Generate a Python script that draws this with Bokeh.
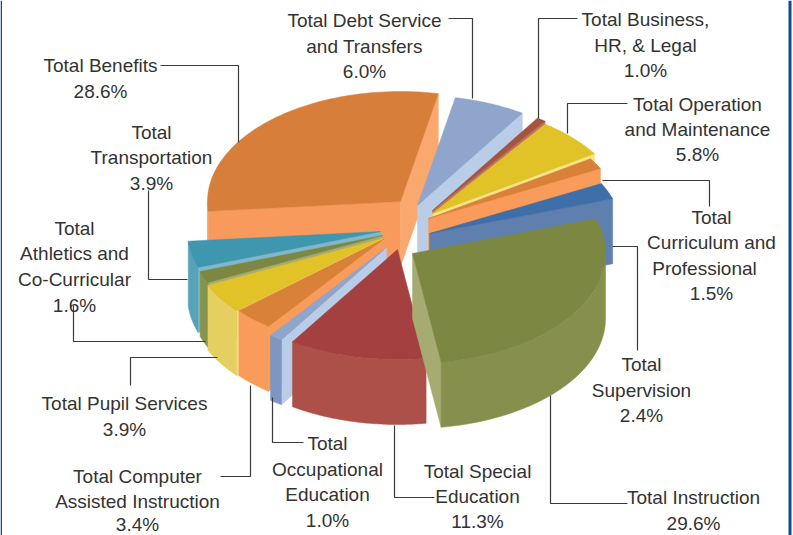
import numpy as np
from bokeh.plotting import figure
from bokeh.embed import file_html
from bokeh.resources import INLINE
from bokeh.core.properties import value

# ---- data (clockwise from the top of the pie) ----
categories = ["Total Debt Service and Transfers", "Total Business, HR, & Legal",
              "Total Operation and Maintenance", "Total Curriculum and Professional",
              "Total Supervision", "Total Instruction", "Total Special Education",
              "Total Occupational Education", "Total Computer Assisted Instruction",
              "Total Pupil Services", "Total Athletics and Co-Curricular",
              "Total Transportation", "Total Benefits"]
shares = [6.0, 1.0, 5.8, 1.5, 2.4, 29.6, 11.3, 1.0, 3.4, 3.9, 1.6, 3.9, 28.6]

top_colors = ["#8FA5CB", "#A5553C", "#E2C327", "#D98039", "#3F6FA8", "#7C8842", "#A54040",
              "#8FA5CB", "#D98039", "#E2C327", "#7C8842", "#3E96AF", "#D77F3A"]
outer_colors = ["#B9CCE8", "#BC7267", "#F5E58A", "#F99C5B", "#5F7FAF", "#868F4C", "#AC5049",
                "#7F96C2", "#F99C5B", "#E5CF60", "#86934F", "#55A2B9", "#F79A5B"]
wall_colors = ["#B9CCE8", "#BC7267", "#F5E58A", "#F99C5B", "#5F7FAF", "#A6AB72", "#AC5049",
               "#B9CCE8", "#F99C5B", "#F5E58A", "#A6AB72", "#7FB8CB", "#F79A5B"]
end_wall_benefits = "#FBA86E"

# ---- layout of the pie (pixels) ----
CX, CY = 404, 238
RX, RY = 193, 110
DEPTH = 65
START = 9.5
# the reference's perspective moves the slice boundaries a little (degrees, per boundary)
perspective_shift = [1.8, 1.8, 1.0, 1.5, 2.0, 2.0, -4.7, -3.9, -3.5, -3.7, -2.0, -1.6, -1.6, 1.8]
explode_dx = [13, 28, 28, 24, 25, 8, -7, -18, -20, -22, -22, -24, -4]
explode_dy = [-33, -28, -25, -20, -5, 15, 11, 9, 0, 0, -3, -7, -37]
# painter's order, back to front
draw_order = [12, 0, 1, 2, 3, 4, 11, 10, 9, 8, 7, 6, 5]

# ---- labels: (text, x, y) lines; leaders: polylines ----
label_lines = [
    ("Total Debt Service", 364, 20), ("and Transfers", 364, 46), ("6.0%", 364, 71),
    ("Total Business,", 645, 19), ("HR, & Legal", 645, 45), ("1.0%", 645, 70),
    ("Total Operation", 697, 104), ("and Maintenance", 697, 129), ("5.8%", 697, 154),
    ("Total", 711, 217), ("Curriculum and", 711, 242), ("Professional", 704, 268), ("1.5%", 711, 293),
    ("Total", 641, 364), ("Supervision", 641, 390), ("2.4%", 641, 415),
    ("Total Instruction", 693, 497), ("29.6%", 693, 523),
    ("Total Special", 477, 471), ("Education", 477, 496), ("11.3%", 477, 521),
    ("Total", 327, 443), ("Occupational", 327, 469), ("Education", 327, 494), ("1.0%", 327, 520),
    ("Total Computer", 137, 476), ("Assisted Instruction", 137, 501), ("3.4%", 137, 524),
    ("Total Pupil Services", 124, 403), ("3.9%", 124, 429),
    ("Total", 74, 228), ("Athletics and", 74, 253), ("Co-Curricular", 74, 279), ("1.6%", 74, 305),
    ("Total", 151, 132), ("Transportation", 151, 157), ("3.9%", 151, 183),
    ("Total Benefits", 100, 65), ("28.6%", 100, 91),
]
leaders = [
    ([160, 238, 238], [65, 65, 142]),
    ([448, 472, 472], [18, 18, 98]),
    ([577, 538, 538], [18, 18, 118]),
    ([627, 567, 567], [103, 103, 133]),
    ([602, 709, 709], [180, 180, 206]),
    ([612, 637, 637], [246, 246, 350]),
    ([550, 550, 627], [395, 503, 503]),
    ([394, 394, 434], [425, 497, 497]),
    ([272, 272, 303], [397, 442, 442]),
    ([250, 250, 220], [385, 476, 476]),
    ([130, 130, 217], [385, 357, 357]),
    ([73, 73, 205], [305, 341, 341]),
    ([148, 148, 187], [190, 279, 279]),
]

p = figure(width=793, height=535, output_backend="svg", toolbar_location=None,
           x_range=(0, 793), y_range=(535, 0), min_border=0,
           x_axis_type="linear", tools="")
p.axis.visible = False
p.grid.visible = False
p.outline_line_color = None
p.background_fill_color = "white"
p.border_fill_color = "white"


def poly(xs, ys, color):
    p.patch(list(xs), list(ys), fill_color=color, line_color=color, line_width=0.5)


def ell(t):
    r = np.radians(t)
    return RX * np.sin(r), -RY * np.cos(r)


edges = START + np.concatenate([[0], np.cumsum(shares)]) * 3.6 + np.array(perspective_shift)

for i in draw_order:
    t0, t1 = edges[i], edges[i + 1]
    ax, ay = CX + explode_dx[i], CY + explode_dy[i]
    # cut faces
    if np.sin(np.radians(t0)) < 0:
        ox, oy = ell(t0)
        poly([ax, ax + ox, ax + ox, ax], [ay, ay + oy, ay + oy + DEPTH, ay + DEPTH], wall_colors[i])
    if np.sin(np.radians(t1)) > 0:
        ox, oy = ell(t1)
        c = end_wall_benefits if i == 12 else wall_colors[i]
        poly([ax, ax + ox, ax + ox, ax], [ay, ay + oy, ay + oy + DEPTH, ay + DEPTH], c)
    # outer rim, the part that faces the viewer
    lo, hi = max(t0, 90), min(t1, 270)
    if lo < hi:
        ts = np.linspace(lo, hi, 60)
        ox, oy = ell(ts)
        poly(np.r_[ax + ox, (ax + ox)[::-1]], np.r_[ay + oy, (ay + oy + DEPTH)[::-1]], outer_colors[i])
    # top face
    ts = np.linspace(t0, t1, 80)
    ox, oy = ell(ts)
    poly(np.r_[ax, ax + ox], np.r_[ay, ay + oy], top_colors[i])

for xs, ys in leaders:
    p.line(xs, ys, line_color="#3A3A3A", line_width=1.2)

p.text([l[1] for l in label_lines], [l[2] for l in label_lines], text=[l[0] for l in label_lines],
       text_font=value("Liberation Sans"), text_font_size="19px", text_color="#333333",
       text_align="center", text_baseline="middle")

# frame on the left and right edges
for fx, fw in ((0.75, 1.5), (789.5, 3)):
    p.line([fx, fx], [0, 535], line_color="#0E4C92", line_width=fw)

open("out.html", "w").write(file_html(p, INLINE))
